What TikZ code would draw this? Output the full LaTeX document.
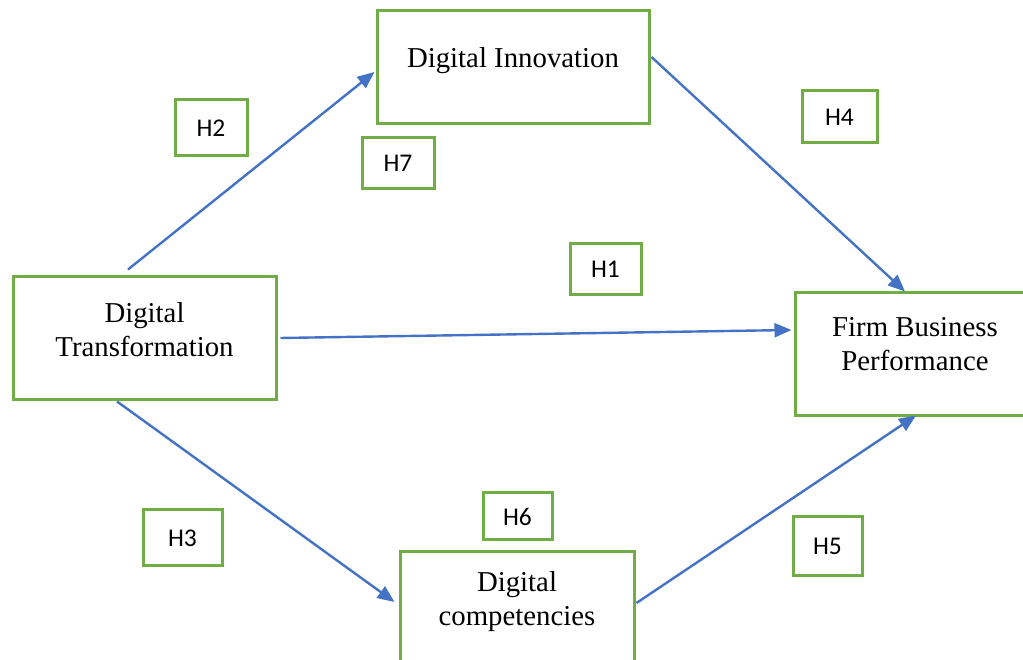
\documentclass[tikz,border=0pt]{standalone}
\usepackage{fontspec}
\setmainfont{Liberation Serif}
\newfontfamily\hypfont{Carlito}
\usetikzlibrary{arrows.meta,positioning,calc}
\definecolor{boxgreen}{HTML}{70AD47}
\definecolor{linkblue}{HTML}{4472C4}

\begin{document}
\begin{tikzpicture}[
        x=1pt, y=1pt,
        concept/.style={rectangle, draw=boxgreen, line width=3pt, fill=white},
        caption/.style={align=center, inner sep=0pt, font=\fontsize{28.8}{34}\selectfont},
        hyp/.style={rectangle, draw=boxgreen, line width=3pt, inner sep=0pt, font=\hypfont\fontsize{25.5}{28}\selectfont},
        arrow/.style={-{Triangle[length=17pt,width=14pt]}, line width=2.4pt, draw=linkblue}
      ]
        \clip (0,0) rectangle (1023,660);

        % Constructs
        \node[concept, minimum width=263pt, minimum height=123pt] (dt) at (144.5,321.5) {};
        \node[caption, below=27pt of dt.north] (dt-text) {Digital\\Transformation};

        \node[concept, minimum width=272pt, minimum height=113pt] (di) at (513,592.5) {};
        \node[caption, below=38pt of di.north] (di-text) {Digital Innovation};

        \node[concept, minimum width=240pt, minimum height=123pt] (fbp) at (915,305.5) {};
        \node[caption, below=26pt of fbp.north] (fbp-text) {Firm Business\\Performance};

        \node[concept, minimum width=234pt, minimum height=123pt] (dc) at (517,46.5) {};
        \node[caption, below=21pt of dc.north] (dc-text) {Digital\\competencies};

        % Hypotheses
        \node[hyp, minimum width=72pt, minimum height=56pt] (h2) at (211,532) {H2};
        \node[hyp, minimum width=72pt, minimum height=51pt] (h7) at (398,496.5) {H7};
        \node[hyp, minimum width=75pt, minimum height=52pt] (h4) at (839.5,543) {H4};
        \node[hyp, minimum width=71pt, minimum height=51pt] (h1) at (605.5,390.5) {H1};
        \node[hyp, minimum width=79pt, minimum height=56pt] (h3) at (182.5,122) {H3};
        \node[hyp, minimum width=69pt, minimum height=47pt] (h6) at (517.5,143.5) {H6};
        \node[hyp, minimum width=69pt, minimum height=59pt] (h5) at (827.5,113.5) {H5};

        % Paths
        \draw[arrow] ($(dt.north)+(-16.5,6)$) -- ($(di.west)+(-1,-4.5)$);
        \draw[arrow] ($(dt.east)+(3,0.5)$) -- ($(fbp.west)+(-2,24.5)$);
        \draw[arrow] ($(di.east)+(1,10.5)$) -- ($(fbp.north)+(-10,0)$);
        \draw[arrow] ($(dt.south)+(-27.5,0)$) -- ($(dc.west)+(-4,11.5)$);
        \draw[arrow] ($(dc.east)+(1,10.5)$) -- ($(fbp.south)+(1,2)$);
      \end{tikzpicture}
\end{document}
